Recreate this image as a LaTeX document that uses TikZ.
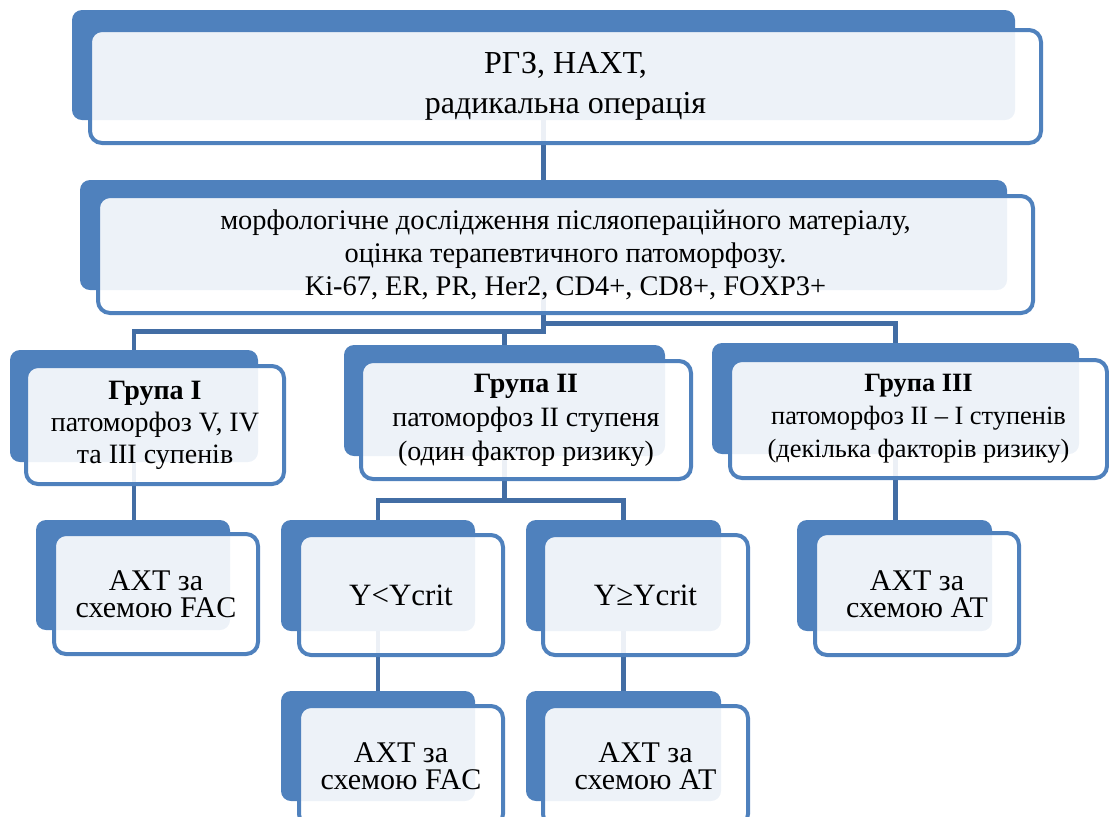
\documentclass[tikz,border=0pt]{standalone}
\usepackage{fontspec}
\setmainfont{Liberation Serif}
\usetikzlibrary{fit,backgrounds}

\definecolor{smartblue}{RGB}{79,129,189}
\definecolor{linkblue}{RGB}{66,109,164}

\tikzset{
  backbox/.style={fill=smartblue, rounded corners=5pt, inner sep=0pt},
  frontbox/.style={draw=smartblue, line width=2pt, fill=white, fill opacity=0.9,
    text opacity=1, rounded corners=6pt, inner sep=0pt, align=center},
  pxsize/.style 2 args={minimum width=#1*0.5pt, minimum height=#2*0.5pt},
  link/.style={draw=linkblue, line width=2.2pt},
  toptxt/.style={font=\fontsize{16}{20}\selectfont},
  morphtxt/.style={font=\fontsize{14.2}{16.5}\selectfont},
  grptxt/.style={font=\fontsize{14}{16}\selectfont},
  ytxt/.style={font=\fontsize{15.5}{17}\selectfont},
  axttxt/.style={font=\fontsize{15}{13.5}\selectfont}
}

\begin{document}
\begin{tikzpicture}[x=0.5pt,y=-0.5pt]
\useasboundingbox (0,0) rectangle (1109,816);
\clip (0,0) rectangle (1109,816);

\node[backbox, fit={(72,10) (1015,120)}] (rgzB) {};
\node[backbox, fit={(80,180) (1007,290)}] (morphB) {};
\node[backbox, fit={(10,350) (258,462)}] (grpIB) {};
\node[backbox, fit={(344,345) (665,456)}] (grpIIB) {};
\node[backbox, fit={(712,343) (1079,454)}] (grpIIIB) {};
\node[backbox, fit={(36,520) (230,630)}] (facIB) {};
\node[backbox, fit={(281,520) (475,631)}] (ylowB) {};
\node[backbox, fit={(526,520) (721,631)}] (yhighB) {};
\node[backbox, fit={(797,520) (992,631)}] (atIIIB) {};
\node[backbox, fit={(281,691) (475,801)}] (facIIB) {};
\node[backbox, fit={(526,691) (721,801)}] (atIIB) {};

\node[frontbox, toptxt, pxsize={951}{113}] (rgz) at (565.5,86.5) {РГЗ, НАХТ,\\радикальна операція};
\node[frontbox, morphtxt, pxsize={935}{117}] (morph) at (565.5,254.5) {морфологічне дослідження післяопераційного матеріалу,\\оцінка терапевтичного патоморфозу.\\Ki-67, ER, PR, Her2, CD4+, CD8+, FOXP3+};
\node[frontbox, grptxt, pxsize={258}{118}] (grpI) at (155,425) {\textbf{Група I}\\патоморфоз V, IV\\та III супенів};
\node[frontbox, font=\fontsize{14}{17}\selectfont, pxsize={330}{118}] (grpII) at (526,420) {\textbf{Група II}\\патоморфоз II ступеня\\(один фактор ризику)};
\node[frontbox, font=\fontsize{13.2}{16.5}\selectfont, pxsize={377}{118}] (grpIII) at (918.5,419) {\textbf{Група III}\\патоморфоз II -- I ступенів\\(декілька факторів ризику)};
\node[frontbox, axttxt, pxsize={204}{120}] (facI) at (156,594) {АХТ за\\схемою FAC};
\node[frontbox, ytxt, pxsize={204}{120}] (ylow) at (401,595) {Y<Ycrit};
\node[frontbox, ytxt, pxsize={205}{120}] (yhigh) at (645.5,595) {Y≥Ycrit};
\node[frontbox, axttxt, pxsize={204}{122}] (atIII) at (917,594) {АХТ за\\схемою АТ};
\node[frontbox, axttxt, pxsize={204}{120}] (facII) at (401,766) {АХТ за\\схемою FAC};
\node[frontbox, axttxt, pxsize={205}{120}] (atII) at (645.5,766) {АХТ за\\схемою АТ};

\begin{scope}[on background layer]
\draw[link] (rgzB.south) -- (morphB.north);
\draw[link] (morphB.south) -- ++(0,41) -| (grpIB.north);
\draw[link] (morphB.south) -- ++(0,41) -| (grpIIB.north);
\draw[link] (morphB.south) -- ++(0,33) -| (grpIIIB.north);
\draw[link] (grpIB.south) -- (grpIB.south |- facIB.north);
\draw[link] (grpIIB.south) -- ++(0,44) -| (ylowB.north);
\draw[link] (grpIIB.south) -- ++(0,44) -| (yhighB.north);
\draw[link] (grpIIIB.south) -- (grpIIIB.south |- atIIIB.north);
\draw[link] (ylowB.south) -- (facIIB.north);
\draw[link] (yhighB.south) -- (atIIB.north);
\end{scope}
\end{tikzpicture}
\end{document}
